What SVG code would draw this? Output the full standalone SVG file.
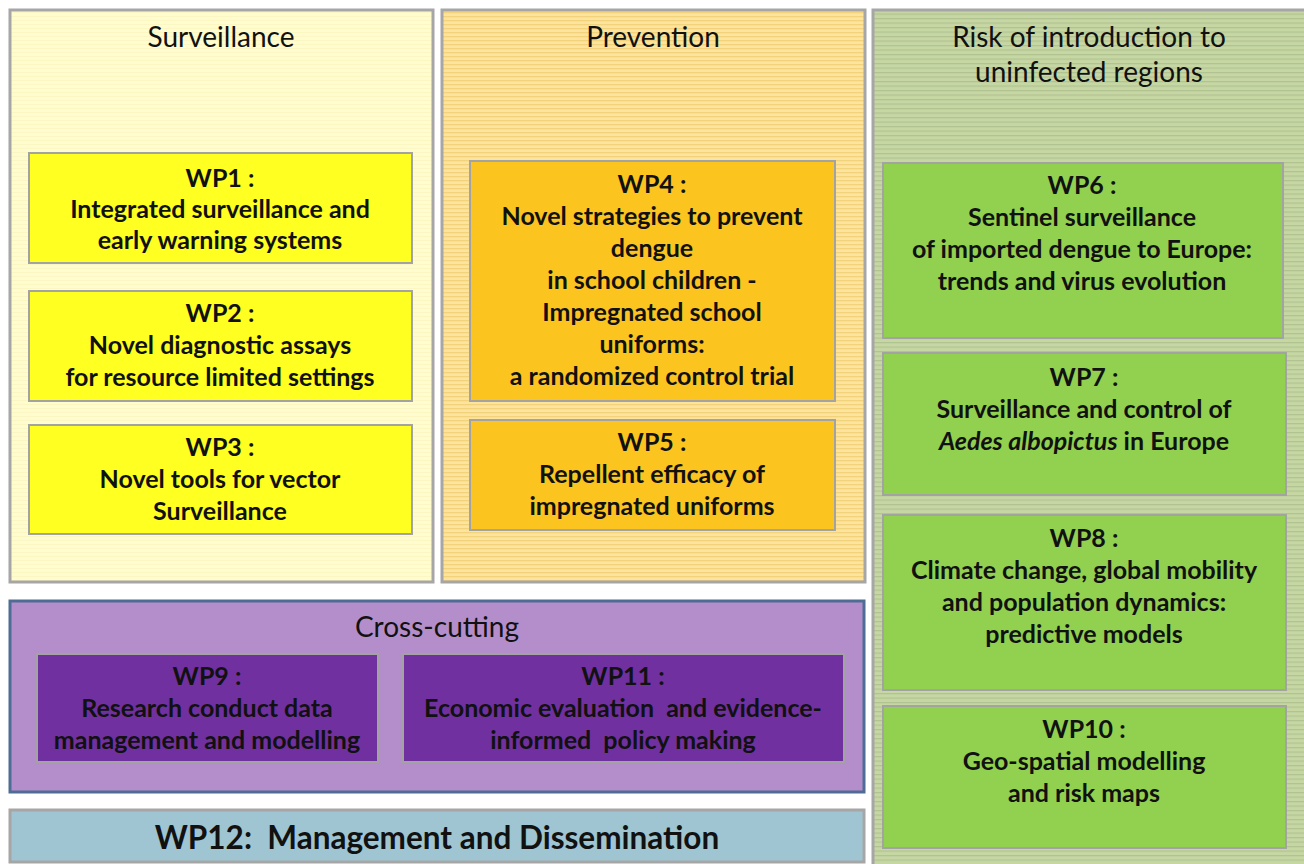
<svg xmlns="http://www.w3.org/2000/svg" width="1304" height="864" viewBox="0 0 1304 864">
<defs>
<pattern id="pSurv" width="8" height="4" patternUnits="userSpaceOnUse"><rect width="8" height="4" fill="#fffcd0"/><rect y="0" width="8" height="1" fill="#fbf6c2"/></pattern>
<pattern id="pPrev" width="8" height="4" patternUnits="userSpaceOnUse"><rect width="8" height="4" fill="#fde49e"/><rect y="0" width="8" height="1.3" fill="#f3d27c"/></pattern>
<pattern id="pRisk" width="8" height="4.5" patternUnits="userSpaceOnUse"><rect width="8" height="4.5" fill="#c6d7a4"/><rect y="0" width="8" height="1.2" fill="#b0c290"/></pattern>
</defs>
<style>
.panel{stroke:#a6a6a6;stroke-width:3}
.box{stroke:#a3a3a3;stroke-width:2}
.title{font-family:Lato,"Liberation Sans",sans-serif;font-size:28px;fill:#111;text-anchor:middle}
.wp{font-family:Lato,"Liberation Sans",sans-serif;font-size:25px;font-weight:bold;fill:#111;text-anchor:middle}
.wp12{font-family:Lato,"Liberation Sans",sans-serif;font-size:31.5px;font-weight:bold;fill:#111;text-anchor:middle}
.yel{fill:#ffff22}
.org{fill:#fbc41e}
.grn{fill:#92d050}
.pur{fill:#7030a0}
</style>
<rect width="1304" height="864" fill="#ffffff"/>

<g id="surveillance">
<rect class="panel" x="10" y="10" width="423" height="572" fill="url(#pSurv)"/>
<text class="title" x="221" y="47">Surveillance</text>
</g>
<g id="prevention">
<rect class="panel" x="442" y="10" width="423" height="572" fill="url(#pPrev)"/>
<text class="title" x="653" y="47">Prevention</text>
</g>
<g id="risk">
<rect class="panel" x="873" y="10" width="436" height="860" fill="url(#pRisk)"/>
<text class="title" x="1089" y="47">Risk of introduction to</text>
<text class="title" x="1089" y="82">uninfected regions</text>
</g>
<g id="crosscutting">
<rect x="10" y="601" width="854" height="191" fill="#b48ecb" stroke="#4f6c94" stroke-width="3"/>
<text class="title" x="437" y="637">Cross-cutting</text>
</g>

<g id="wp1">
<rect class="box yel" x="29" y="153" width="383" height="110"/>
<text class="wp" x="220" y="187">WP1 :</text>
<text class="wp" x="220" y="218">Integrated surveillance and</text>
<text class="wp" x="220" y="249">early warning systems</text>
</g>
<g id="wp2">
<rect class="box yel" x="29" y="291" width="383" height="110"/>
<text class="wp" x="220" y="322">WP2 :</text>
<text class="wp" x="220" y="354">Novel diagnostic assays</text>
<text class="wp" x="220" y="386">for resource limited settings</text>
</g>
<g id="wp3">
<rect class="box yel" x="29" y="425" width="383" height="109"/>
<text class="wp" x="220" y="456">WP3 :</text>
<text class="wp" x="220" y="488">Novel tools for vector</text>
<text class="wp" x="220" y="520">Surveillance</text>
</g>

<g id="wp4">
<rect class="box org" x="470" y="161" width="365" height="240"/>
<text class="wp" x="652" y="193">WP4 :</text>
<text class="wp" x="652" y="225">Novel strategies to prevent</text>
<text class="wp" x="652" y="257">dengue</text>
<text class="wp" x="652" y="289">in school children -</text>
<text class="wp" x="652" y="321">Impregnated school</text>
<text class="wp" x="652" y="353">uniforms:</text>
<text class="wp" x="652" y="385">a randomized control trial</text>
</g>
<g id="wp5">
<rect class="box org" x="470" y="420" width="365" height="110"/>
<text class="wp" x="652" y="451">WP5 :</text>
<text class="wp" x="652" y="483">Repellent efficacy of</text>
<text class="wp" x="652" y="515">impregnated uniforms</text>
</g>

<g id="wp6">
<rect class="box grn" x="883" y="163" width="400" height="175"/>
<text class="wp" x="1082" y="194">WP6 :</text>
<text class="wp" x="1082" y="226">Sentinel surveillance</text>
<text class="wp" x="1082" y="258">of imported dengue to Europe:</text>
<text class="wp" x="1082" y="290">trends and virus evolution</text>
</g>
<g id="wp7">
<rect class="box grn" x="883" y="353" width="403" height="142"/>
<text class="wp" x="1084" y="386">WP7 :</text>
<text class="wp" x="1084" y="418">Surveillance and control of</text>
<text class="wp" x="1084" y="450"><tspan font-style="italic">Aedes albopictus</tspan> in Europe</text>
</g>
<g id="wp8">
<rect class="box grn" x="883" y="515" width="403" height="175"/>
<text class="wp" x="1084" y="547">WP8 :</text>
<text class="wp" x="1084" y="579">Climate change, global mobility</text>
<text class="wp" x="1084" y="611">and population dynamics:</text>
<text class="wp" x="1084" y="643">predictive models</text>
</g>
<g id="wp10">
<rect class="box grn" x="883" y="706" width="403" height="142"/>
<text class="wp" x="1084" y="738">WP10 :</text>
<text class="wp" x="1084" y="770">Geo-spatial modelling</text>
<text class="wp" x="1084" y="802">and risk maps</text>
</g>

<g id="wp9">
<rect class="box pur" x="37" y="654" width="341" height="108"/>
<text class="wp" x="207" y="685">WP9 :</text>
<text class="wp" x="207" y="717">Research conduct data</text>
<text class="wp" x="207" y="749">management and modelling</text>
</g>
<g id="wp11">
<rect class="box pur" x="403" y="654" width="441" height="108"/>
<text class="wp" x="623" y="685">WP11 :</text>
<text class="wp" x="623" y="717" xml:space="preserve">Economic evaluation  and evidence-</text>
<text class="wp" x="623" y="749" xml:space="preserve">informed  policy making</text>
</g>

<g id="wp12">
<rect class="panel" x="10" y="810" width="854" height="52" fill="#9ec5d1"/>
<text class="wp12" x="437" y="849" xml:space="preserve">WP12:  Management and Dissemination</text>
</g>

<g id="connectors"></g>
</svg>
